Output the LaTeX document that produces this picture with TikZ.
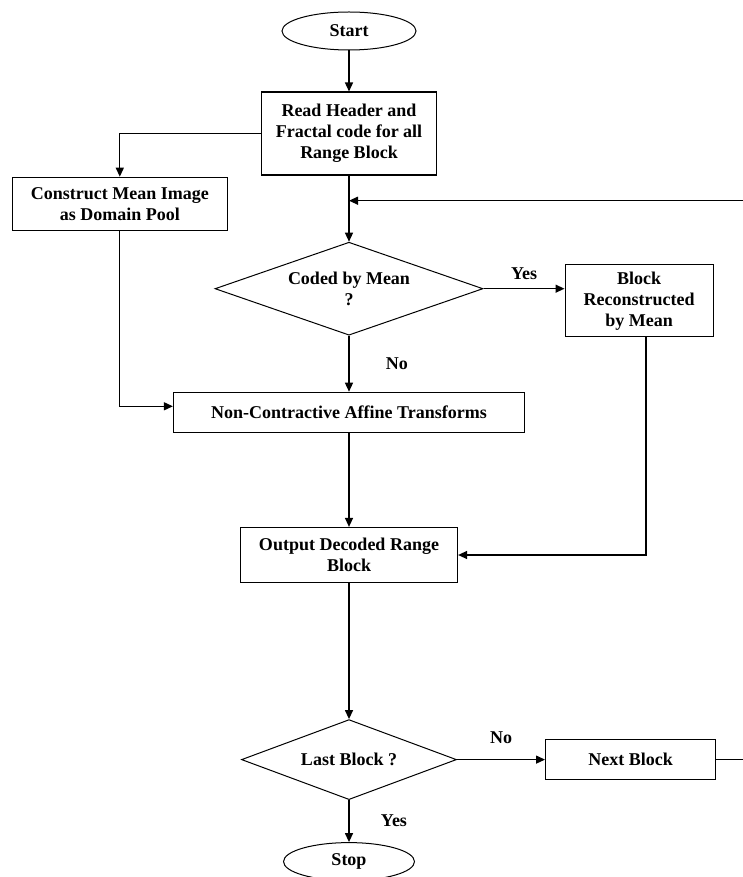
\documentclass[tikz,border=0pt]{standalone}
\usepackage{fontspec}
\setmainfont{Liberation Serif}
\usetikzlibrary{arrows.meta,positioning,shapes.geometric}

\begin{document}
\begin{tikzpicture}[x=1pt, y=-1pt,
    every node/.style={font=\fontsize{18}{21}\selectfont\bfseries, align=center},
    box/.style={rectangle, draw, line width=1.2pt, inner sep=0pt},
    decision/.style={diamond, draw, line width=1pt, inner sep=0pt},
    terminal/.style={ellipse, draw, line width=1pt, inner sep=0pt},
    arr/.style={-{Triangle[length=9pt, width=8pt]}, line width=1.3pt}]
  \useasboundingbox (0,0) rectangle (742,877);
  \node[terminal, minimum width=134pt, minimum height=38pt] (start) at (349,31) {Start};
  \node[box, minimum width=175pt, minimum height=83pt, below=41pt of start] (read) {Read Header and\\Fractal code for all\\Range Block};
  \node[box, minimum width=215pt, minimum height=53pt, below left=1pt and 33pt of read.south west] (construct) {Construct Mean Image\\as Domain Pool};
  \coordinate[below=25pt of read] (join);
  \node[decision, shape aspect=2.9, minimum width=268pt, minimum height=93pt, below=66pt of read] (coded) {Coded by Mean\\?};
  \node[box, minimum width=148pt, minimum height=72pt, right=81pt of coded, yshift=-12pt] (rebuilt) {Block\\Reconstructed\\by Mean};
  \node[box, minimum width=351pt, minimum height=40pt, below=56pt of coded] (affine) {Non-Contractive Affine Transforms};
  \node[box, minimum width=217pt, minimum height=55pt, below=94pt of affine] (output) {Output Decoded Range\\Block};
  \node[decision, shape aspect=2.7, minimum width=215pt, minimum height=80pt, below=136pt of output] (last) {Last Block ?};
  \node[box, minimum width=170pt, minimum height=40pt, right=88pt of last] (next) {Next Block};
  \node[terminal, minimum width=131pt, minimum height=38pt, below=42pt of last] (stop) {Stop};

  \draw[arr] (start) -- (read);
  \draw[arr] (read.west) -| (construct.north);
  \draw[line width=1.3pt] (read.south) -- (join);
  \draw[arr] (join) -- (coded.north);
  \draw[arr] (coded.east) -- (coded.east -| rebuilt.west) node[midway, above=5pt] {Yes};
  \draw[arr] (coded.south) -- (affine.north) node[midway, right=33pt] {No};
  \draw[arr] (construct.south) |- ([yshift=6pt]affine.west);
  \draw[arr] ([xshift=7pt]rebuilt.south) |- (output.east);
  \draw[arr] (affine.south) -- (output.north);
  \draw[arr] (output.south) -- (last.north);
  \draw[arr] (last.east) -- (next.west) node[midway, above=12pt] {No};
  \draw[arr] (last.south) -- (stop.north) node[midway, right=28pt] {Yes};
  \draw[arr] (next.east) -- ++(35pt,0) |- (join);
\end{tikzpicture}
\end{document}
